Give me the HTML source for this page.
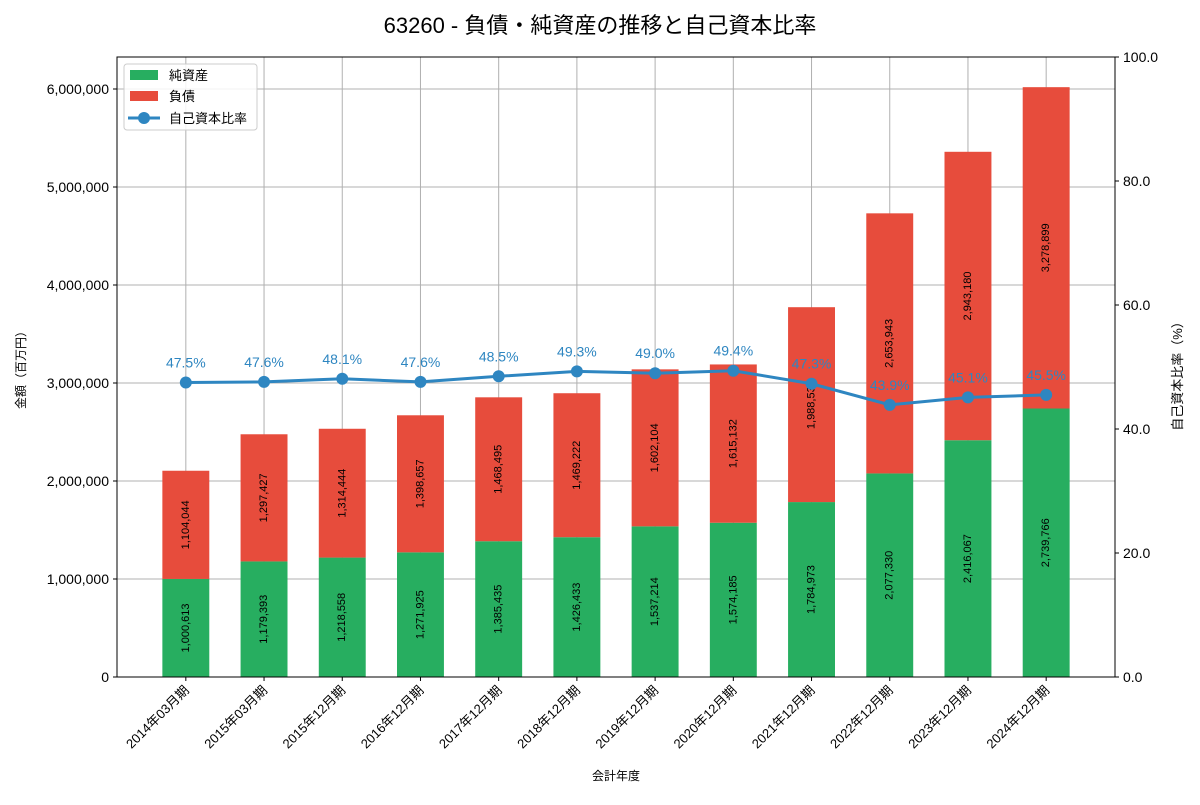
<!DOCTYPE html>
<html><head><meta charset="utf-8"><style>
body{margin:0;background:#fff;}
svg text{font-family:"Liberation Sans","Noto Sans CJK JP",sans-serif;}
</style></head><body>
<svg id="chart" width="1200" height="800" xmlns="http://www.w3.org/2000/svg">
<text x="600" y="33" text-anchor="middle" font-size="22" fill="#000">63260 - 負債・純資産の推移と自己資本比率</text>
<g id="grid"></g><g id="bars"></g><g id="labels"></g><g id="line"></g><g id="axes"></g>
</svg>
<script>
const categories=["2014年03月期","2015年03月期","2015年12月期","2016年12月期","2017年12月期","2018年12月期","2019年12月期","2020年12月期","2021年12月期","2022年12月期","2023年12月期","2024年12月期"];
const equity=[1000613,1179393,1218558,1271925,1385435,1426433,1537214,1574185,1784973,2077330,2416067,2739766];
const liabilities=[1104044,1297427,1314444,1398657,1468495,1469222,1602104,1615132,1988530,2653943,2943180,3278899];
const ratio=[47.5,47.6,48.1,47.6,48.5,49.3,49.0,49.4,47.3,43.9,45.1,45.5];
const leftTicks=[0,1000000,2000000,3000000,4000000,5000000,6000000];
const rightTicks=[0,20,40,60,80,100];
const NS="http://www.w3.org/2000/svg";
const L=117,R=1115,T=57,B=677;
const yMax=6326531;
const sp=(R-L)/12.76;
const x=i=>L+sp*(0.88+i);
const y=v=>B-v/yMax*(B-T);
const yr=v=>B-v/100*(B-T);
function mk(par,tag,attrs,txt){const e=document.createElementNS(NS,tag);for(const k in attrs)e.setAttribute(k,attrs[k]);if(txt!==undefined)e.textContent=txt;document.getElementById(par).appendChild(e);return e;}
const fmt=v=>v.toLocaleString('en-US');
categories.forEach((c,i)=>{const g=mk('grid','line',{x1:x(i),x2:x(i),y1:T,y2:B,stroke:'#b0b0b0','stroke-width':1});

});
leftTicks.forEach(t=>{const g=mk('grid','line',{x1:L,x2:R,y1:y(t),y2:y(t),stroke:'#b0b0b0','stroke-width':1});

});
const bw=sp*0.6;
categories.forEach((c,i)=>{
const b1=mk('bars','rect',{x:x(i)-bw/2,y:y(equity[i]),width:bw,height:B-y(equity[i]),fill:'#27ae60'});


const tot=equity[i]+liabilities[i];
const b2=mk('bars','rect',{x:x(i)-bw/2,y:y(tot),width:bw,height:y(equity[i])-y(tot),fill:'#e74c3c'});


const ym1=(y(0)+y(equity[i]))/2, ym2=(y(equity[i])+y(tot))/2;
const t1=mk('labels','text',{x:x(i),y:ym1,'font-size':11,'text-anchor':'middle','dominant-baseline':'central',transform:`rotate(-90 ${x(i)} ${ym1})`},fmt(equity[i]));


const t2=mk('labels','text',{x:x(i),y:ym2,'font-size':11,'text-anchor':'middle','dominant-baseline':'central',transform:`rotate(-90 ${x(i)} ${ym2})`},fmt(liabilities[i]));


});
const pts=ratio.map((r,i)=>x(i)+','+yr(r)).join(' ');
const pl=mk('line','polyline',{points:pts,fill:'none',stroke:'#2e86c1','stroke-width':3});


ratio.forEach((r,i)=>{
const c=mk('line','circle',{cx:x(i),cy:yr(r),r:6,fill:'#2e86c1'});


const t=mk('line','text',{x:x(i),y:yr(r)-15,'font-size':14,'text-anchor':'middle',fill:'#2e86c1'},r.toFixed(1)+'%');


});
const fr=mk('axes','rect',{x:L,y:T,width:R-L,height:B-T,fill:'none',stroke:'#000','stroke-width':1});


leftTicks.forEach(t=>{mk('axes','line',{x1:L-4,x2:L,y1:y(t),y2:y(t),stroke:'#000'});
const e=mk('axes','text',{x:L-8,y:y(t)+5,'font-size':14,'text-anchor':'end'},fmt(t));

});
rightTicks.forEach(t=>{mk('axes','line',{x1:R,x2:R+4,y1:yr(t),y2:yr(t),stroke:'#000'});
const e=mk('axes','text',{x:R+8,y:yr(t)+5,'font-size':14,'text-anchor':'start'},t.toFixed(1));

});
categories.forEach((c,i)=>{mk('axes','line',{x1:x(i),x2:x(i),y1:B,y2:B+4,stroke:'#000'});
const e=mk('axes','text',{x:x(i)+4,y:B+14,'font-size':13,'text-anchor':'end',transform:`rotate(-45 ${x(i)+4} ${B+14})`},c);

});
let e=mk('axes','text',{x:616,y:780,'font-size':12,'text-anchor':'middle'},'会計年度');


e=mk('axes','text',{x:25,y:367,'font-size':12,'text-anchor':'middle',transform:'rotate(-90 25 367)'},'金額（百万円）');


e=mk('axes','text',{x:1182,y:373,'font-size':13,'text-anchor':'middle',transform:'rotate(-90 1182 373)'},'自己資本比率（%）');


const lg=mk('axes','rect',{x:124,y:64,width:133,height:66,fill:'#fff','fill-opacity':0.85,stroke:'#ccc',rx:3});


mk('axes','rect',{x:130,y:70,width:28,height:10,fill:'#27ae60'});
e=mk('axes','text',{x:169,y:80,'font-size':13},'純資産');


mk('axes','rect',{x:130,y:91,width:28,height:10,fill:'#e74c3c'});
e=mk('axes','text',{x:169,y:101,'font-size':13},'負債');


mk('axes','line',{x1:128,x2:160,y1:118,y2:118,stroke:'#2e86c1','stroke-width':3});
mk('axes','circle',{cx:144,cy:118,r:6,fill:'#2e86c1'});
e=mk('axes','text',{x:169,y:123,'font-size':13},'自己資本比率');


</script>
</body></html>
